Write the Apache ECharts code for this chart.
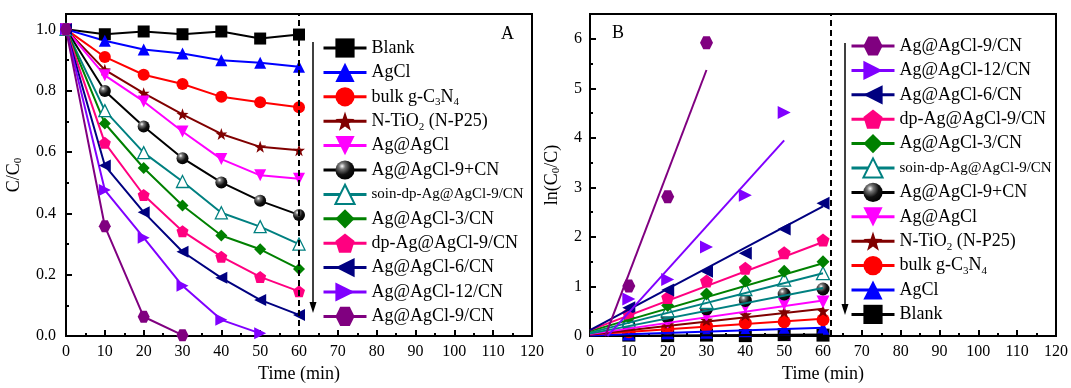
<!DOCTYPE html>
<html><head><meta charset="utf-8">
<script src="https://cdn.jsdelivr.net/npm/echarts@6/dist/echarts.min.js"></script>
<style>html,body{margin:0;padding:0;background:#fff}#c{width:1071px;height:388px}</style>
</head><body><div id="c"></div>
<script>
// ---------- DATA ----------
const timesA = [0, 10, 20, 30, 40, 50, 60];
const timesB = [10, 20, 30, 40, 50, 60];
const xTicks = [0, 10, 20, 30, 40, 50, 60, 70, 80, 90, 100, 110, 120];

const names = ['Blank', 'AgCl', 'bulk g-C3N4', 'N-TiO2 (N-P25)', 'Ag@AgCl', 'Ag@AgCl-9+CN',
  'soin-dp-Ag@AgCl-9/CN', 'Ag@AgCl-3/CN', 'dp-Ag@AgCl-9/CN', 'Ag@AgCl-6/CN', 'Ag@AgCl-12/CN', 'Ag@AgCl-9/CN'];

// Panel A: C/C0
const blankA   = [1.0, 0.984, 0.993, 0.984, 0.993, 0.970, 0.983];
const agclA    = [1.0, 0.963, 0.934, 0.921, 0.899, 0.891, 0.878];
const bulkA    = [1.0, 0.910, 0.852, 0.822, 0.780, 0.762, 0.746];
const ntioA    = [1.0, 0.868, 0.792, 0.723, 0.659, 0.617, 0.606];
const agagclA  = [1.0, 0.850, 0.765, 0.667, 0.577, 0.524, 0.513];
const cnMixA   = [1.0, 0.799, 0.683, 0.580, 0.501, 0.441, 0.395];
const soinA    = [1.0, 0.735, 0.598, 0.504, 0.402, 0.357, 0.300];
const ag3A     = [1.0, 0.693, 0.548, 0.426, 0.328, 0.283, 0.219];
const dpA      = [1.0, 0.630, 0.460, 0.342, 0.259, 0.193, 0.146];
const ag6A     = [1.0, 0.556, 0.404, 0.275, 0.190, 0.118, 0.069];
const ag12A    = [1.0, 0.476, 0.321, 0.164, 0.053, 0.009];
const ag9A     = [1.0, 0.358, 0.063, 0.003];

// Panel B: ln(C0/C) points (t = 10, 20, ...)
const blankB   = [0.02, 0.01, 0.02, 0.01, 0.03, 0.02];
const agclB    = [0.04, 0.07, 0.08, 0.11, 0.14, 0.16];
const bulkB    = [0.09, 0.16, 0.20, 0.26, 0.29, 0.33];
const ntioB    = [0.14, 0.23, 0.32, 0.43, 0.49, 0.51];
const agagclB  = [0.16, 0.27, 0.41, 0.59, 0.65, 0.69];
const cnMixB   = [0.22, 0.38, 0.55, 0.72, 0.85, 0.95];
const soinB    = [0.31, 0.52, 0.69, 0.95, 1.14, 1.27];
const ag3B     = [0.37, 0.62, 0.85, 1.11, 1.31, 1.50];
const dpB      = [0.46, 0.78, 1.11, 1.37, 1.68, 1.94];
const ag6B     = [0.57, 0.93, 1.31, 1.67, 2.16, 2.68];
const ag12B    = [0.75, 1.14, 1.80, 2.84, 4.51];
const ag9B     = [1.01, 2.81, 5.92];

// Panel B: fitted lines, endpoints [x0, y0, x1, y1]
const blankFit  = [0, 0.00, 60, 0.03];
const agclFit   = [0, 0.01, 60, 0.17];
const bulkFit   = [0, 0.03, 60, 0.35];
const ntioFit   = [0, 0.03, 60, 0.55];
const agagclFit = [0, 0.04, 60, 0.72];
const cnMixFit  = [0, 0.05, 60, 0.97];
const soinFit   = [0, 0.07, 60, 1.27];
const ag3Fit    = [0, 0.10, 60, 1.47];
const dpFit     = [0, 0.12, 60, 1.90];
const ag6Fit    = [0, 0.12, 60, 2.62];
const ag12Fit   = [4.5, 0, 50, 3.95];
const ag9Fit    = [3.9, 0, 30, 5.37];

// ---------- STYLE ----------
const FONT = '"Liberation Serif", "DejaVu Serif", serif';
const sphere = {type: 'radial', x: 0.35, y: 0.3, r: 0.75,
  colorStops: [{offset: 0, color: '#ffffff'}, {offset: 0.22, color: '#777777'}, {offset: 0.6, color: '#111111'}, {offset: 1, color: '#000000'}]};
const SYM = {
  star: 'path://M0,-10 L2.35,-3.24 L9.51,-3.09 L3.8,1.24 L5.88,8.09 L0,4 L-5.88,8.09 L-3.8,1.24 L-9.51,-3.09 L-2.35,-3.24 Z',
  pent: 'path://M0,-10 L9.51,-3.09 L5.88,8.09 L-5.88,8.09 L-9.51,-3.09 Z',
  hex: 'path://M-10,0 L-5,-8.66 L5,-8.66 L10,0 L5,8.66 L-5,8.66 Z',
  down: 'path://M-10,-8.66 L10,-8.66 L0,8.66 Z',
  left: 'path://M-8.66,0 L8.66,-10 L8.66,10 Z',
  right: 'path://M8.66,0 L-8.66,-10 L-8.66,10 Z'
};
const specs = [
  {c: '#000000', s: 'rect', f: '#000000', a: blankA, b: blankB, fit: blankFit},
  {c: '#0000ff', s: 'triangle', f: '#0000ff', a: agclA, b: agclB, fit: agclFit},
  {c: '#ff0000', s: 'circle', f: '#ff0000', a: bulkA, b: bulkB, fit: bulkFit},
  {c: '#800000', s: SYM.star, f: '#800000', a: ntioA, b: ntioB, fit: ntioFit},
  {c: '#ff00ff', s: SYM.down, f: '#ff00ff', a: agagclA, b: agagclB, fit: agagclFit},
  {c: '#000000', s: 'circle', f: sphere, a: cnMixA, b: cnMixB, fit: cnMixFit, fitColor: '#008080'},
  {c: '#008080', s: 'triangle', f: '#ffffff', a: soinA, b: soinB, fit: soinFit},
  {c: '#008000', s: 'diamond', f: '#008000', a: ag3A, b: ag3B, fit: ag3Fit},
  {c: '#ff0080', s: SYM.pent, f: '#ff0080', a: dpA, b: dpB, fit: dpFit},
  {c: '#000080', s: SYM.left, f: '#000080', a: ag6A, b: ag6B, fit: ag6Fit},
  {c: '#8000ff', s: SYM.right, f: '#8000ff', a: ag12A, b: ag12B, fit: ag12Fit},
  {c: '#800080', s: SYM.hex, f: '#800080', a: ag9A, b: ag9B, fit: ag9Fit}
];

const series = [];
specs.forEach((sp, i) => {
  series.push({
    name: names[i], type: 'line', xAxisIndex: 0, yAxisIndex: 0,
    data: sp.a.map((v, k) => [timesA[k], v]),
    symbol: sp.s, symbolSize: 12, showAllSymbol: true,
    lineStyle: {color: sp.c, width: 2},
    itemStyle: {color: sp.f, borderColor: sp.c, borderWidth: sp.f === '#ffffff' ? 1.3 : 0, opacity: 1},
    z: 3, animation: false
  });
});
specs.forEach((sp, i) => {
  series.push({
    name: names[i] + ' fit', type: 'line', xAxisIndex: 1, yAxisIndex: 1,
    data: [[sp.fit[0], sp.fit[1]], [sp.fit[2], sp.fit[3]]],
    symbol: 'none', lineStyle: {color: sp.fitColor || sp.c, width: 2}, z: 4, animation: false
  });
});
specs.forEach((sp, i) => {
  series.push({
    name: names[i], type: 'scatter', xAxisIndex: 1, yAxisIndex: 1,
    data: sp.b.map((v, k) => [timesB[k], v]),
    symbol: sp.s, symbolSize: 13,
    itemStyle: {color: sp.f, borderColor: sp.c, borderWidth: sp.f === '#ffffff' ? 1.3 : 0, opacity: 1},
    z: 3, animation: false
  });
});
// dashed vertical markers
series[0].markLine = {silent: true, symbol: 'none', label: {show: false},
  lineStyle: {color: '#000', type: [6, 4], width: 2}, data: [{xAxis: 60}], animation: false};
series[12].markLine = {silent: true, symbol: 'none', label: {show: false},
  lineStyle: {color: '#000', type: [6, 4], width: 2}, data: [{xAxis: 62}], animation: false};

const fmtName = n => {
  if (n === 'bulk g-C3N4') return 'bulk g-C{sub|3}N{sub|4}';
  if (n === 'N-TiO2 (N-P25)') return 'N-TiO{sub|2} (N-P25)';
  if (n === 'soin-dp-Ag@AgCl-9/CN') return '{small|soin-dp-Ag@AgCl-9/CN}';
  return n;
};
const legendText = {color: '#000', fontFamily: FONT, fontSize: 18, lineHeight: 22,
  rich: {sub: {fontFamily: FONT, fontSize: 11, lineHeight: 22, verticalAlign: 'bottom', padding: [10, 0, 0, 0]},
         small: {fontFamily: FONT, fontSize: 15, lineHeight: 22}}};

function xAxis(gi) {
  return {type: 'value', gridIndex: gi, min: 0, max: 120, interval: 10,
    name: 'Time (min)', nameLocation: 'middle', nameGap: 26,
    nameTextStyle: {fontFamily: FONT, fontSize: 18, color: '#000'},
    axisLine: {lineStyle: {color: '#000', width: 2}},
    axisTick: {inside: true, length: 6, lineStyle: {color: '#000', width: 2}},
    minorTick: {show: true, splitNumber: 2, length: 3, lineStyle: {color: '#000', width: 2}},
    axisLabel: {fontFamily: FONT, fontSize: 16, color: '#000', margin: 8,
      formatter: v => (xTicks.indexOf(v) >= 0 ? String(v) : '')},
    splitLine: {show: false}};
}
const yName = {fontFamily: FONT, fontSize: 18, color: '#000',
  rich: {sub: {fontFamily: FONT, fontSize: 11, verticalAlign: 'bottom', padding: [9, 0, 0, 0]}}};

const option = {
  animation: false,
  grid: [
    {left: 66, top: 14, width: 466, height: 331, show: true, borderColor: '#000', borderWidth: 2},
    {left: 590, top: 14, width: 466, height: 331, show: true, borderColor: '#000', borderWidth: 2}
  ],
  xAxis: [xAxis(0), xAxis(1)],
  yAxis: [
    {type: 'value', gridIndex: 0, min: 0, max: 1.05, interval: 0.2,
      name: 'C/C{sub|0}', nameLocation: 'middle', nameGap: 42, nameRotate: 90, nameTextStyle: yName,
      axisLine: {lineStyle: {color: '#000', width: 2}},
      axisTick: {inside: true, length: 6, lineStyle: {color: '#000', width: 2}},
      minorTick: {show: true, splitNumber: 2, length: 3, lineStyle: {color: '#000', width: 2}},
      axisLabel: {fontFamily: FONT, fontSize: 16, color: '#000', margin: 10, showMaxLabel: false,
        formatter: v => v.toFixed(1)},
      splitLine: {show: false}},
    {type: 'value', gridIndex: 1, min: 0, max: 6.5, interval: 1,
      name: 'ln(C{sub|0}/C)', nameLocation: 'middle', nameGap: 28, nameRotate: 90, nameTextStyle: yName,
      axisLine: {lineStyle: {color: '#000', width: 2}},
      axisTick: {inside: true, length: 6, lineStyle: {color: '#000', width: 2}},
      minorTick: {show: true, splitNumber: 2, length: 3, lineStyle: {color: '#000', width: 2}},
      axisLabel: {fontFamily: FONT, fontSize: 16, color: '#000', margin: 8, showMaxLabel: false},
      splitLine: {show: false}}
  ],
  legend: [
    {left: 317, top: 32, orient: 'vertical', itemWidth: 43, itemHeight: 24, itemGap: 2.4,
      lineStyle: {width: 3}, data: names.slice(), formatter: fmtName, textStyle: legendText, selectedMode: false},
    {left: 845, top: 30, orient: 'vertical', itemWidth: 43, itemHeight: 24, itemGap: 2.4,
      lineStyle: {width: 3}, data: names.slice().reverse(), formatter: fmtName, textStyle: legendText, selectedMode: false}
  ],
  graphic: [
    {type: 'text', left: 501, top: 25, style: {text: 'A', font: '18px ' + FONT, fill: '#000'}},
    {type: 'text', left: 612, top: 24, style: {text: 'B', font: '18px ' + FONT, fill: '#000'}},
    {type: 'line', shape: {x1: 313, y1: 42, x2: 313, y2: 306}, style: {stroke: '#000', lineWidth: 1.5}},
    {type: 'polygon', shape: {points: [[309.5, 302], [316.5, 302], [313, 313]]}, style: {fill: '#000'}},
    {type: 'line', shape: {x1: 845, y1: 43, x2: 845, y2: 308}, style: {stroke: '#000', lineWidth: 1.5}},
    {type: 'polygon', shape: {points: [[841.5, 304], [848.5, 304], [845, 315]]}, style: {fill: '#000'}}
  ],
  series: series
};
const chart = echarts.init(document.getElementById('c'), null, {renderer: 'canvas'});
chart.setOption(option);
</script></body></html>
